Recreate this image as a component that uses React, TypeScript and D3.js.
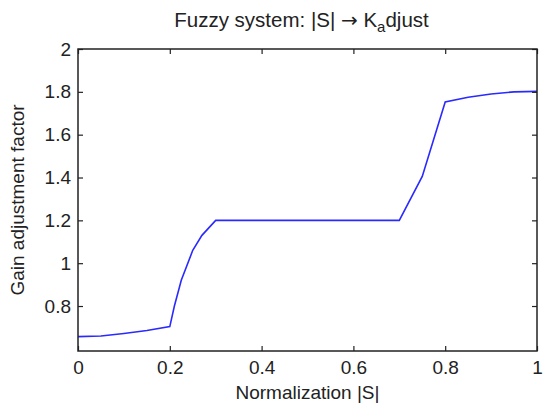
import React, { useRef, useEffect } from 'react';
import * as d3 from 'd3';

// Curve samples (|S| normalised -> gain factor)
const sValues = [0, 0.05, 0.1, 0.15, 0.2, 0.21, 0.225, 0.25, 0.27, 0.3, 0.7, 0.75, 0.8, 0.85, 0.9, 0.95, 1];
const gainValues = [0.657, 0.66, 0.672, 0.686, 0.704, 0.8, 0.92, 1.06, 1.13, 1.2, 1.2, 1.405, 1.753, 1.775, 1.79, 1.8, 1.802];

const xTicks = [0, 0.2, 0.4, 0.6, 0.8, 1];
const yTicks = [0.8, 1, 1.2, 1.4, 1.6, 1.8, 2];

const width = 550;
const height = 419;

const App: React.FC = () => {
  const svgRef = useRef<SVGSVGElement | null>(null);

  useEffect(() => {
    if (!svgRef.current) return;
    const margin = { top: 49, right: 13, bottom: 68, left: 78 };
    const w = width - margin.left - margin.right;
    const h = height - margin.top - margin.bottom;
    const font = 'Arial, "Liberation Sans", Helvetica, sans-serif';
    const fontSize = '19px';

    const svg = d3.select(svgRef.current);
    svg.selectAll('*').remove();
    svg.append('rect').attr('width', width).attr('height', height).attr('fill', 'white');

    const g = svg.append('g').attr('transform', `translate(${margin.left},${margin.top})`);

    const x = d3.scaleLinear().domain([0, 1]).range([0, w]);
    const y = d3.scaleLinear().domain([0.59, 2]).range([h, 0]);

    // Curve
    const data = sValues.map((s, i) => ({ s, v: gainValues[i] }));
    const line = d3.line<{ s: number; v: number }>()
      .x(d => x(d.s))
      .y(d => y(d.v));

    g.append('path')
      .datum(data)
      .attr('fill', 'none')
      .attr('stroke', '#2a2aff')
      .attr('stroke-width', 1.6)
      .attr('d', line);

    // Axes, MATLAB style ticks pointing inwards on all sides
    const tickLen = 5;
    const axisStyle = (sel: d3.Selection<SVGGElement, unknown, null, undefined>) => {
      sel.select('.domain').remove();
      sel.selectAll('.tick line').attr('stroke', '#222').attr('stroke-width', 1.2);
      sel.selectAll('text')
        .attr('fill', '#222')
        .attr('font-family', font)
        .attr('font-size', fontSize);
    };

    g.append('g')
      .attr('transform', `translate(0,${h})`)
      .call(d3.axisBottom(x).tickValues(xTicks).tickFormat(d => `${d}`).tickSize(-tickLen).tickPadding(10))
      .call(axisStyle);

    g.append('g')
      .call(d3.axisTop(x).tickValues(xTicks).tickFormat(() => '').tickSize(-tickLen))
      .call(axisStyle);

    g.append('g')
      .call(d3.axisLeft(y).tickValues(yTicks).tickFormat(d => `${d}`).tickSize(-tickLen).tickPadding(7))
      .call(axisStyle);

    g.append('g')
      .attr('transform', `translate(${w},0)`)
      .call(d3.axisRight(y).tickValues(yTicks).tickFormat(() => '').tickSize(-tickLen))
      .call(axisStyle);

    // Box
    g.append('rect')
      .attr('width', w)
      .attr('height', h)
      .attr('fill', 'none')
      .attr('stroke', '#222')
      .attr('stroke-width', 1.5);

    // Title with subscript
    const title = svg.append('text')
      .attr('x', margin.left + w / 2 - 6)
      .attr('y', 27)
      .attr('text-anchor', 'middle')
      .attr('fill', '#222')
      .attr('font-family', font)
      .attr('font-size', '20.5px');
    title.append('tspan').text('Fuzzy system: |S| ');
    title.append('tspan').attr('font-family', '"DejaVu Sans", sans-serif').attr('font-size', '20px').text('\u2192');
    title.append('tspan').text(' K');
    title.append('tspan').attr('font-size', '15px').attr('dy', 5).text('a');
    title.append('tspan').attr('dy', -5).text('djust');

    // Axis labels
    svg.append('text')
      .attr('x', margin.left + w / 2)
      .attr('y', 399)
      .attr('text-anchor', 'middle')
      .attr('fill', '#222')
      .attr('font-family', font)
      .attr('font-size', fontSize)
      .text('Normalization |S|');

    svg.append('text')
      .attr('transform', `translate(24,${margin.top + h / 2}) rotate(-90)`)
      .attr('text-anchor', 'middle')
      .attr('fill', '#222')
      .attr('font-family', font)
      .attr('font-size', fontSize)
      .text('Gain adjustment factor');
  }, []);

  return (
    <svg
      ref={svgRef}
      width={width}
      height={height}
      style={{ position: 'absolute', left: 0, top: 0, display: 'block' }}
    />
  );
};

export default App;
